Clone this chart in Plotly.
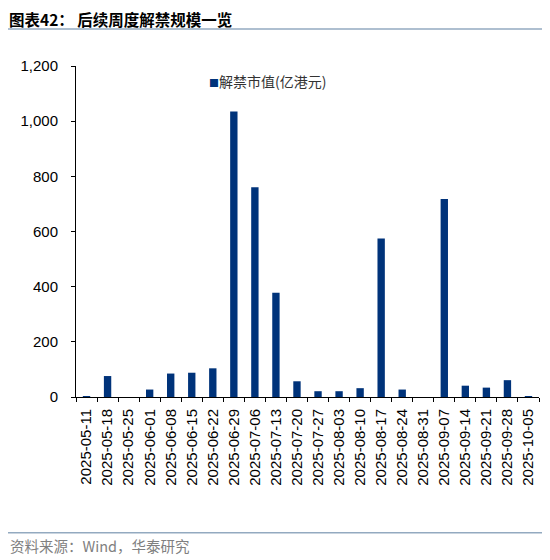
import plotly.graph_objects as go

# weekly lock-up expiry, 100m HKD
weeks = ["2025-05-11", "2025-05-18", "2025-05-25", "2025-06-01", "2025-06-08",
         "2025-06-15", "2025-06-22", "2025-06-29", "2025-07-06", "2025-07-13",
         "2025-07-20", "2025-07-27", "2025-08-03", "2025-08-10", "2025-08-17",
         "2025-08-24", "2025-08-31", "2025-09-07", "2025-09-14", "2025-09-21",
         "2025-09-28", "2025-10-05"]
unlock_value = [2, 76, 0, 27, 85, 88, 104, 1035, 760, 378, 57, 21, 21, 32, 575,
                27, 0, 718, 41, 34, 61, 2]

series_name = "解禁市值(亿港元)"
title_text = "图表42： 后续周度解禁规模一览"
source_text = "资料来源：Wind，华泰研究"
y_ticks = [0, 200, 400, 600, 800, 1000, 1200]

num_font = "Liberation Sans, Arial, sans-serif"
cjk_font = "Noto Sans CJK SC, sans-serif"
bar_color = "#00337A"
rule_color = "#93AAC0"

# the page adds an 8px body margin, so the figure is 8px smaller
W, H = 542, 552
L, R, T, B = 68, 11, 58, 163
pw, ph = W - L - R, H - T - B


def px_x(x):  # figure px -> paper x
    return (x - L) / pw


def px_y(y):  # figure px -> paper y
    return 1 - (y - T) / ph


fig = go.Figure()
fig.add_trace(go.Bar(x=weeks, y=unlock_value, name=series_name,
                     marker=dict(color=bar_color, line=dict(width=0)),
                     width=0.35))

fig.update_layout(
    width=W, height=H,
    margin=dict(l=L, r=R, t=T, b=B),
    plot_bgcolor="white", paper_bgcolor="white",
    showlegend=False,
)

fig.update_xaxes(type="category", showline=True, linecolor="black", linewidth=1,
                 ticks="outside", tickson="boundaries", ticklen=4, tickcolor="black",
                 tickangle=-90, ticklabelstandoff=5,
                 tickfont=dict(family=num_font, size=15, color="black"),
                 showgrid=False)
fig.update_yaxes(range=[0, 1200], tickvals=y_ticks,
                 ticktext=[f"{v:,}" for v in y_ticks],
                 showline=True, linecolor="black", linewidth=1,
                 ticks="outside", ticklen=4, tickcolor="black",
                 ticklabelstandoff=10,
                 tickfont=dict(family=num_font, size=15, color="black"),
                 showgrid=False, zeroline=False)

# legend drawn as a small key
fig.add_annotation(text=f'<span style="color:{bar_color};font-size:10px">■</span>{series_name}',
                   xref="paper", yref="paper", x=px_x(199), y=px_y(72.7),
                   xanchor="left", yanchor="middle", showarrow=False,
                   font=dict(family=cjk_font, size=14, color="#333333"))

# header / footer
fig.add_annotation(text="<b>" + title_text + "</b>", xref="paper", yref="paper",
                   x=px_x(0), y=px_y(11), xanchor="left", yanchor="middle",
                   borderpad=0, showarrow=False,
                   font=dict(family=cjk_font, size=15.5, color="black"))
fig.add_shape(type="line", xref="paper", yref="paper",
              x0=px_x(0), x1=px_x(W), y0=px_y(21), y1=px_y(21),
              line=dict(color=rule_color, width=1.5))
fig.add_shape(type="line", xref="paper", yref="paper",
              x0=px_x(0), x1=px_x(W), y0=px_y(524.7), y1=px_y(524.7),
              line=dict(color=rule_color, width=1.5))
fig.add_annotation(text=source_text, xref="paper", yref="paper",
                   x=px_x(0), y=px_y(537.7), xanchor="left", yanchor="middle",
                   showarrow=False, font=dict(family=cjk_font, size=14.5, color="#808080"))

fig.write_html("out.html")
